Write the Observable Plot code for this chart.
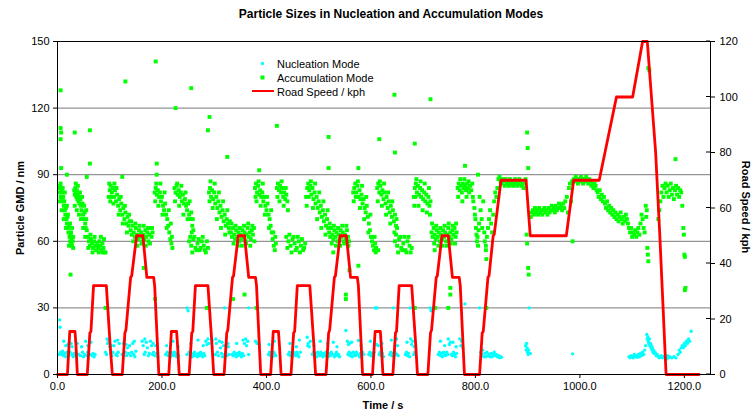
<!DOCTYPE html>
<html>
<head>
<meta charset="utf-8">
<script src="https://cdn.jsdelivr.net/npm/d3@7"></script>
<script src="https://cdn.jsdelivr.net/npm/@observablehq/plot@0.6"></script>
<style>
  html, body { margin: 0; padding: 0; background: #fff; }
  #chart { width: 752px; height: 414px; }
  svg { overflow: visible; }
</style>
</head>
<body>
<div id="chart"></div>
<script>
// ---------- data ----------
const titleText = "Particle Sizes in Nucleation and Accumulation Modes";
const xLabel = "Time / s";
const yLabelLeft = "Particle GMD / nm";
const yLabelRight = "Road Speed / kph";
const seriesNames = ["Nucleation Mode", "Accumulation Mode", "Road Speed / kph"];

const xTicks = [0, 200, 400, 600, 800, 1000, 1200];
const gmdTicks = [0, 30, 60, 90, 120, 150];
const speedTicks = [0, 20, 40, 60, 80, 100, 120];

// Road speed (kph) vs time (s)
const roadSpeed = [
  [0,0],[19,0],[23.5,15.5],[33.5,15.5],[35.5,10],[38,0],[57,0],[62,15],[64,15.5],[69,32],[93.5,32],[101,10],[105,0],
  [124,0],[129,15],[131,16],[140,35],[142,35.5],[151.5,50],[163.5,50],[171,35],[184,35],[186,32],[194,0],
  [213,0],[218,15.5],[228,15.5],[230,10],[233,0],[252,0],[257,15],[259,15.5],[264,32],[288,32],[296,10],[299,0],
  [319,0],[324,15],[326,16],[335,35],[337,35.5],[346,50],[358,50],[366,35],[379,35],[381,32],[389,0],
  [408,0],[413,15.5],[423,15.5],[425,10],[428,0],[447,0],[452,15],[454,15.5],[459,32],[483,32],[491,10],[494,0],
  [514,0],[519,15],[521,16],[530,35],[532,35.5],[541,50],[553,50],[561,35],[574,35],[576,32],[584,0],
  [603,0],[608,15.5],[618,15.5],[620,10],[623,0],[642,0],[647,15],[649,15.5],[654,32],[678,32],[686,10],[689,0],
  [709,0],[714,15],[716,16],[725,35],[727,35.5],[736,50],[748,50],[756,35],[769,35],[771,32],[779,0],
  [808,0],[813,15],[815,15.5],[824,35],[826,35.5],[834,50],[836,50.5],[849,70],[897,70],[905,50],[974,50],
  [988,70],[1037,70],[1070,100],[1101,100],[1120,120],[1129,120],[1145,80],[1153,50],[1165,0],[1228,0]
];

// Accumulation mode GMD (nm) vs time (s)
const accumulation = [
  [3,84],[4,82],[5,85],[6,80],[7,83],[8,79],[9,82],[10,78],[11,80],[12,76],[13,78],[14,74],[15,72],[16,75],[17,70],[18,68],[19,71],[20,66],[21,64],[22,67],[23,62],[24,60],[25,63],[26,59],[27,61],[28,58],[29,60],[30,57],
  [32,83],[33,81],[34,84],[35,82],[36,80],[37,83],[38,79],[39,81],[40,78],[41,80],[42,77],[44,79],[45,76],[46,74],[48,77],[49,72],[50,70],[52,73],[53,68],[54,66],[55,70],[56,65],
  [58,62],[60,60],[62,58],[64,61],[66,59],[68,57],[70,60],[72,58],[74,56],[76,59],[78,57],[80,60],[82,58],[84,56],[86,59],[88,57],[90,55],
  [98,80],[100,83],[102,85],[104,82],[106,84],[108,80],[110,83],[112,78],[114,81],[116,76],[118,79],[120,74],[122,77],[124,72],[126,75],[128,70],[130,73],[132,68],[134,71],[136,67],[138,69],
  [140,65],[142,63],[144,67],[146,64],[148,62],[150,66],[152,63],[154,61],[156,65],[158,62],[160,64],[162,60],[164,63],[166,61],[168,65],[170,62],[172,64],[174,60],[176,63],[178,66],[180,62],[182,64],
  [186,82],[188,84],[190,81],[192,83],[194,80],[196,82],[198,78],[200,80],[202,76],[204,74],[206,77],[208,72],[210,70],[212,67],[214,64],[216,61],[218,59],[220,57],
  [6,128],[6,111],[7,109],[6,106],[7,93],[18,90],[33,109],[62,110],[62,95],[56,89],[130,132],[124,89],[188,141],[190,95],[190,90],
  [165,48],[92,55],[25,45],[92,30],[187,34],[286,30],[358,36],[381,30],[336,34],
  [224,84],[226,82],[228,85],[230,81],[232,83],[234,80],[236,82],[238,78],[240,81],[242,77],[244,79],[246,76],[248,74],[250,77],[252,72],[254,70],[256,73],[258,67],[260,65],
  [226,120],[256,129],[291,116],[288,110],[325,98],[386,92],
  [252,60],[256,58],[260,61],[264,57],[268,59],[272,56],[276,60],[280,58],[284,55],[288,57],
  [290,82],[292,84],[294,80],[296,83],[298,79],[300,82],[302,77],[304,80],[306,75],[308,78],[310,73],[312,76],[314,71],[316,74],[318,69],[320,72],[322,67],[324,70],[326,68],[328,66],[330,69],
  [332,64],[334,62],[336,66],[338,63],[340,61],[342,65],[344,62],[346,64],[348,60],[350,63],[352,61],[354,65],[356,62],[358,64],[360,60],[362,63],[364,66],[366,62],[368,64],[370,61],[372,65],[374,63],[376,66],
  [378,84],[380,86],[382,82],[384,85],[386,81],[388,83],[390,80],[392,82],[394,78],[396,80],[398,76],[400,74],[402,77],[404,72],[406,70],[408,67],[410,64],[412,61],[414,58],[416,56],[418,59],
  [420,84],[422,86],[424,83],[426,85],[428,82],[430,84],[432,80],[434,82],[436,79],[438,81],[440,78],[420,112],
  [438,62],[442,60],[446,58],[450,61],[454,59],[458,57],[462,60],[466,58],[470,56],[474,59],
  [476,80],[478,84],[480,86],[482,83],[484,85],[486,81],[488,84],[490,79],[492,82],[494,77],[496,80],[498,75],[500,78],[502,73],[504,76],[506,71],[508,74],[510,69],[512,72],[514,67],[516,70],[518,66],
  [519,107],[519,93],[528,55],
  [520,64],[522,62],[524,66],[526,63],[528,61],[530,65],[532,62],[534,64],[536,60],[538,63],[540,61],[542,65],[544,62],[546,64],[548,60],[550,63],[552,61],[554,65],[556,62],[558,60],
  [552,36],[552,34],[559,47],[576,49],
  [566,82],[568,84],[570,86],[572,82],[574,85],[576,80],[578,83],[580,79],[582,81],[584,77],[586,79],[588,75],[590,73],[592,76],[594,71],[596,68],[598,65],[600,62],[602,60],[604,58],[606,56],[608,59],[610,57],
  [576,93],[616,106],[614,56],
  [612,84],[614,86],[616,82],[618,85],[620,81],[622,83],[624,79],[626,82],[628,77],[630,80],[632,75],[634,78],[636,73],[638,76],[640,71],[642,74],[644,69],[646,72],[648,67],[650,66],
  [645,126],[646,100],
  [646,60],[650,58],[654,61],[658,57],[662,59],[666,56],[670,60],[674,58],[678,57],
  [682,80],[684,84],[686,86],[688,82],[690,85],[692,81],[694,84],[696,80],[698,83],[700,79],[702,82],[704,78],[706,81],[708,77],[710,80],[712,76],[714,78],
  [684,104],[714,124],[684,30],[722,56],
  [716,64],[718,62],[720,66],[722,63],[724,61],[726,65],[728,62],[730,64],[732,60],[734,63],[736,61],[738,65],[740,62],[742,64],[744,60],[746,63],[748,66],[750,62],[752,64],[754,61],[756,65],[758,63],[760,66],[762,62],[764,64],
  [723,30],[748,30],[752,39],[752,36],
  [766,84],[768,86],[770,83],[772,85],[774,82],[776,86],[778,84],[780,85],[782,83],[784,86],[786,84],[788,82],[780,94],
  [790,85],[792,83],[794,86],[795,80],[796,78],[798,75],[799,72],[800,70],[801,66],[802,63],[803,60],[804,62],[805,58],[806,65],[807,68],[805,90],
  [808,80],[810,74],[812,70],[813,66],[815,78],[817,64],[818,60],[820,58],[821,52],[822,62],[824,66],[826,70],[828,74],[830,68],[832,64],[834,72],[836,78],[838,82],[840,80],[842,84],[821,30],[820,56],
  [844,88],[846,89],[848,87],[850,86],[852,88],[854,87],[856,85],[858,88],[860,86],[862,87],[864,85],[866,88],[868,86],[870,87],[872,85],[874,86],[876,88],[878,87],[880,85],[882,86],[884,88],[886,87],[888,85],[890,86],[892,84],[894,86],[896,88],
  [899,109],[900,102],[901,93],[898,63],[899,59],[901,48],[902,45],
  [906,71],[908,73],[910,74],[912,72],[914,75],[916,73],[918,74],[920,72],[922,75],[924,73],[926,74],[928,72],[930,74],[932,75],[934,73],[936,74],[938,72],[940,75],[942,73],[944,74],[946,76],[948,74],[950,75],[952,73],[954,76],[956,74],[958,75],[960,77],[962,75],[964,76],[966,74],[968,77],[970,75],[972,78],
  [975,80],[977,73],[979,84],[981,86],[983,78],[985,87],[986,60],
  [988,88],[990,87],[992,89],[994,88],[996,86],[998,88],[1000,87],[1002,89],[1004,88],[1006,86],[1008,88],[1010,87],[1012,89],[1014,88],[1016,86],[1018,88],[1020,87],[1022,85],[1024,86],[1026,84],[1028,86],[1030,85],[1032,83],
  [1034,82],[1036,80],[1038,83],[1040,79],[1042,81],[1044,78],[1046,80],[1048,77],[1050,75],[1052,78],[1054,74],[1056,76],[1058,73],[1060,75],[1062,72],[1064,74],[1066,71],[1068,73],[1070,70],[1072,72],[1074,69],[1076,71],[1078,73],[1080,70],[1082,68],[1084,71],[1086,69],[1088,72],[1090,70],[1092,68],[1094,66],[1096,64],[1098,66],[1100,62],[1102,64],[1104,63],[1106,65],[1108,62],[1110,64],[1112,66],[1114,63],[1116,68],[1118,72],[1120,70],[1122,66],[1124,64],
  [1126,76],[1128,74],[1127,71],[1129,57],[1130,54],[1131,51],[1131,138],[1133,137],
  [1150,70],[1152,74],[1154,78],[1156,82],[1158,85],[1160,80],[1162,84],[1164,86],[1166,82],[1168,85],[1170,80],[1172,83],[1174,86],[1176,81],[1178,84],[1180,79],[1182,83],[1184,85],[1186,81],[1188,84],[1190,80],[1192,83],[1194,82],[1196,76],[1183,97],
  [1198,66],[1199,63],[1200,54],[1201,53],[1202,39],[1201,38]
];

// further accumulation-mode readings that widen each cluster
const accumulationSpread = [
  [4,78],[6,86],[8,74],[10,84],[12,70],[14,82],[16,66],[18,76],[20,72],[22,58],[24,68],[26,64],[28,66],[30,62],
  [33,76],[35,86],[37,74],[39,85],[41,72],[43,82],[45,70],[47,80],[49,66],[51,76],[53,62],[55,74],
  [59,57],[63,63],[67,55],[71,62],[75,58],[79,55],[83,62],[87,55],[89,61],
  [99,86],[101,78],[103,80],[107,77],[109,86],[113,84],[117,72],[121,80],[125,68],[129,76],[133,64],[137,72],
  [141,69],[145,60],[149,68],[153,58],[157,67],[161,59],[165,67],[169,58],[173,66],[177,59],[181,66],
  [187,78],[189,86],[193,76],[197,86],[201,72],[205,82],[209,66],[213,74],[217,68],[219,62],
  [225,78],[229,86],[233,76],[237,85],[241,72],[245,82],[249,70],[253,78],[257,64],[259,70],
  [254,62],[258,55],[262,62],[266,56],[270,61],[274,57],[278,62],[282,56],[286,60],
  [291,78],[293,87],[297,75],[301,86],[305,70],[309,82],[313,66],[317,78],[321,63],[325,74],[329,64],
  [333,68],[337,59],[341,67],[345,58],[349,66],[353,58],[357,67],[361,59],[365,68],[369,58],[373,67],[377,60],
  [379,80],[381,78],[385,87],[389,76],[393,86],[397,72],[401,80],[405,66],[409,74],[413,64],[417,62],
  [421,80],[425,78],[429,87],[433,76],[437,84],[441,74],
  [440,57],[444,63],[448,55],[452,62],[456,56],[460,62],[464,55],[468,61],[472,57],
  [477,76],[481,80],[485,87],[489,75],[493,86],[497,70],[501,82],[505,66],[509,78],[513,63],[517,74],
  [521,68],[525,59],[529,67],[533,58],[537,66],[541,58],[545,67],[549,59],[553,67],[557,58],
  [567,78],[571,80],[575,87],[579,75],[583,85],[587,70],[591,80],[595,64],[599,72],[603,62],[607,62],[609,55],
  [613,78],[617,87],[621,76],[625,86],[629,72],[633,82],[637,68],[641,78],[645,64],[649,70],
  [648,63],[652,55],[656,62],[660,56],[664,62],[668,55],[672,62],[676,55],
  [683,76],[685,80],[687,88],[691,76],[695,87],[699,74],[703,86],[707,73],[711,84],[713,72],
  [717,68],[721,59],[725,67],[729,58],[733,66],[737,58],[741,67],[745,58],[749,68],[753,59],[757,67],[761,59],[763,68],
  [767,80],[771,88],[775,78],[779,88],[783,80],[787,87]
];

// Nucleation mode GMD (nm) vs time (s)
const nucleation = [
  [2,9],[6,10],[8,9],[10,10.5],[12,8.5],[14,9.5],[16,8],[18,10],[20,9],[22,8.5],[24,10],[28,9],[30,8],[32,9.5],[34,8.5],[36,10],[40,9],[44,8.5],[48,10],[50,8],[52,9],[56,8.5],[58,10],[62,9],[66,8.5],[68,9.5],[70,8],[72,9],
  [4,24.6],[5,21.3],[12,15],[16,13],[26,14],[28,12.5],[54,15],[58,13],
  [92,10],[94,9],[96,14],[98,15],[100,12.5],[102,9.5],[104,8.5],[106,10],[108,13],[110,15],[112,9],[114,8.5],[116,10],[118,14],
  [124,9],[126,14],[128,15.5],[130,10],[132,8.5],[134,12],[136,9.5],[138,13],[140,8.5],[142,10],[144,14],[146,9],[148,8],[150,10.5],
  [162,15],[164,13],[166,9],[168,10],[170,14.5],[172,12],[174,8.5],[176,9.5],[178,15],[180,13],[182,9],[184,10],[186,8.5],[187,30],[188,13],[190,9.5],[192,8],
  [207,9],[210,10],[212,8.5],[214,9.5],[216,8],[218,10],[220,9],[222,8.5],[224,10],[226,9],[228,8],[230,9.5],[232,8.5],
  [248,30],[250,28.7],[248,9],[252,10],[254,8.5],[256,9.5],[258,8],[260,9],[262,10],[264,8.5],[266,9],[268,8],[270,9.5],[272,8.5],[274,10],[276,9],[278,8],[280,9.5],[282,8.5],
  [284,15],[286,13.5],[288,16],[290,14],[296,15.5],
  [302,9],[304,14],[306,10],[308,8.5],[310,15],[312,12],[314,9.5],[316,8],[318,13],[320,30],[320,9],[322,10],[324,8.5],[326,14],[328,9],
  [334,9],[336,8.5],[338,10],[340,9],[342,8],[344,9.5],[346,8.5],[348,10],[350,9],[352,8],[354,9.5],[356,8.5],[358,14],[360,16],[362,13],[364,15],[366,30],[366,9],[379,15],[382,14],[386,13.5],
  [404,9],[406,10],[408,8.5],[410,9.5],[412,8],[414,10],[416,9],[418,8.5],
  [442,9],[444,10],[446,8.5],[448,9.5],[450,8],[452,10],[454,9],[456,8.5],[458,10],[460,9],[462,8],[465,10],
  [478,16.8],[480,14],[482,12.5],[484,15],[479,13],
  [488,9],[490,10],[492,8.5],[494,9.5],[496,8],[498,10],[500,9],[502,8.5],[504,10],[506,9],[508,8],[510,9.5],[512,8.5],[514,10],[516,9],[518,8],[520,9.5],[522,8.5],[524,10],[526,9],[528,14.5],[530,8],[532,9],[534,10],[536,8.5],[538,9],[540,8],
  [552,19.8],[555,15],[557,13.5],[559,14],[556,9],[558,10],[560,8.5],[562,9.5],[564,8],[566,10],[568,9],[570,8.5],[572,10],[574,9],[576,15.3],[578,8],[580,9.5],[582,8.5],[584,10],[586,9],
  [596,9],[598,10],[600,8.5],[602,9.5],[604,8],[606,10],[608,30],[610,30],[612,30],[614,13],[616,9],[618,10],[620,8.5],[622,9.5],[624,8],
  [636,9],[638,10],[640,8.5],[642,9.5],[643,30],[644,8],[646,10],[648,9],[649,16],[650,9],[652,8.5],
  [666,9],[668,10],[670,8.5],[672,9.5],[674,8],[675,30],[676,16],[678,13.5],[680,15],[682,9],[684,10],
  [713,30],[715,28.7],[719,30],
  [729,9],[731,10],[733,8.5],[735,9.5],[737,8],[739,10],[741,9],[743,8.5],[745,10],[747,9],[748,16],[750,13.5],[752,14.5],[754,9],[756,8.5],[758,10],[760,9],[762,8],[764,9.5],
  [770,16],[772,13],[774,15],[776,12],[780,31.8],
  [808,30],[810,10],[812,9],[814,11],[816,8],[818,9.5],[820,8],[822,10],[824,8.5],[826,9],[828,8],[830,9.5],[832,8],[834,9],[836,10],[838,8.5],[840,9],[842,8],[844,8.5],[846,7.5],[848,8],[850,7.8],
  [896,13],[897,11],[898,14],[899,12],[900,10],[901,9],[902,11],[903,30],[905,9.5],
  [986,9.3],
  [1094,8],[1096,7.5],[1098,8.5],[1100,8],[1102,7.5],[1104,9],[1106,8],[1108,8.5],[1110,7.8],[1112,9],[1114,8],[1116,9.5],[1118,8.5],[1120,10],[1122,9],[1124,11],[1126,13],[1128,18],[1129,16],[1130,17],[1131,15],[1132,14],[1133,16],[1134,13],[1135,14],[1136,12],[1137,13],[1138,11],[1139,12],[1140,10],[1141,11],[1142,9.5],[1144,10],[1146,8.5],[1148,9],[1150,8],[1152,7.5],[1154,8],[1156,8.5],[1158,7.5],[1160,8],[1162,7.5],[1164,8],[1166,7],[1168,8.5],[1170,7.5],[1172,8],[1176,7.5],[1180,8],[1184,7.5],[1188,9],[1190,11],[1192,10],[1194,12],[1196,13],[1198,12],[1200,14],[1202,13],[1204,15],[1206,14],[1208,16],[1210,15],[1213,19.5]
];

// further nucleation-mode readings in the upper (12-17 nm) band
const nucleationUpper = [
  [20,13.5],[38,14],[46,12.5],[64,14.5],[95,16],[103,13],[115,15.5],[131,13.5],[147,15],[167,16],[183,14],
  [209,13],[221,15],[231,12.5],[255,14],[269,15.5],[279,13],[303,16],[315,14.5],[327,12.5],[343,14],[355,15.5],
  [405,13.5],[415,15],[445,14],[457,12.5],[463,15.5],[491,13],[503,15],[517,14],[535,12.5],[563,14.5],[581,13],
  [599,15],[611,13.5],[621,14],[639,15.5],[651,13],[669,14.5],[683,12.5],[733,15],[741,13],[757,14.5],[763,12.5]
];

// ---------- chart ----------
const W = 752, H = 414;
const mL = 57, mR = 42, mT = 41, mB = 40;
const xMax = 1250;
const k = 150 / 120; // speed (kph) -> GMD axis units
const font = "'Liberation Sans', Arial, sans-serif";
const accAll = accumulation.concat(accumulationSpread);
const nucAll = nucleation.concat(nucleationUpper);

const chart = Plot.plot({
  width: W, height: H,
  marginLeft: mL, marginRight: mR, marginTop: mT, marginBottom: mB,
  style: { fontFamily: font, fontSize: "11px", color: "#000", background: "#fff", overflow: "visible" },
  x: { domain: [0, xMax] },
  y: { domain: [0, 150] },
  marks: [
    Plot.ruleY(gmdTicks.slice(1, -1), { stroke: "#7a7a7a", strokeWidth: 1 }),
    Plot.dot(nucAll, { x: d => d[0], y: d => d[1], r: 1.7, fill: "#00FFFF", stroke: "none" }),
    Plot.dot(accAll, { x: d => d[0], y: d => d[1], symbol: "square", r: 2.2, fill: "#00FF00", stroke: "none" }),
    Plot.line(roadSpeed, { x: d => d[0], y: d => d[1] * k, stroke: "#FF0000", strokeWidth: 2.8, strokeLinejoin: "round" }),
    Plot.frame({ stroke: "#000", strokeWidth: 1 }),
    Plot.axisX(xTicks, { tickSize: 4, tickPadding: 4, tickFormat: d => d.toFixed(1), label: null, fontSize: 11 }),
    Plot.axisY(gmdTicks, { tickSize: 4, tickPadding: 4, label: null, fontSize: 11 }),
    Plot.axisY(speedTicks.map(v => v * k), { anchor: "right", tickSize: 4, tickPadding: 5, tickFormat: d => String(Math.round(d / k)), label: null, fontSize: 11 })
  ]
});
document.getElementById("chart").appendChild(chart);

// extra decorations: title, axis titles, legend, crossing ticks on right axis
const svg = d3.select(chart);
const xs = chart.scale("x"), ys = chart.scale("y");
const xRight = xs.apply(xMax);

svg.append("g").selectAll("line").data(speedTicks).join("line")
  .attr("x1", xRight - 4).attr("x2", xRight)
  .attr("y1", d => ys.apply(d * k)).attr("y2", d => ys.apply(d * k))
  .attr("stroke", "#000");

svg.append("text").text(titleText)
  .attr("x", 391).attr("y", 18).attr("text-anchor", "middle")
  .attr("font-family", font).attr("font-size", 12).attr("font-weight", "bold");

svg.append("text").text(xLabel)
  .attr("x", 383).attr("y", 409).attr("text-anchor", "middle")
  .attr("font-family", font).attr("font-size", 11).attr("font-weight", "bold");

svg.append("text").text(yLabelLeft)
  .attr("transform", "translate(24,208) rotate(-90)").attr("text-anchor", "middle")
  .attr("font-family", font).attr("font-size", 11).attr("font-weight", "bold");

svg.append("text").text(yLabelRight)
  .attr("transform", "translate(742,207) rotate(90)").attr("text-anchor", "middle")
  .attr("font-family", font).attr("font-size", 11).attr("font-weight", "bold");

const lg = svg.append("g").attr("font-family", font).attr("font-size", 11).attr("text-anchor", "start");
lg.append("circle").attr("cx", 262.5).attr("cy", 63.5).attr("r", 1.7).attr("fill", "#00FFFF");
lg.append("rect").attr("x", 260.5).attr("y", 75.5).attr("width", 4).attr("height", 4).attr("fill", "#00FF00");
lg.append("line").attr("x1", 252).attr("x2", 274).attr("y1", 91).attr("y2", 91).attr("stroke", "#FF0000").attr("stroke-width", 2);
seriesNames.forEach((name, i) => {
  lg.append("text").text(name).attr("x", 277).attr("y", 67.5 + i * 14).attr("text-anchor", "start");
});
</script>
</body>
</html>
